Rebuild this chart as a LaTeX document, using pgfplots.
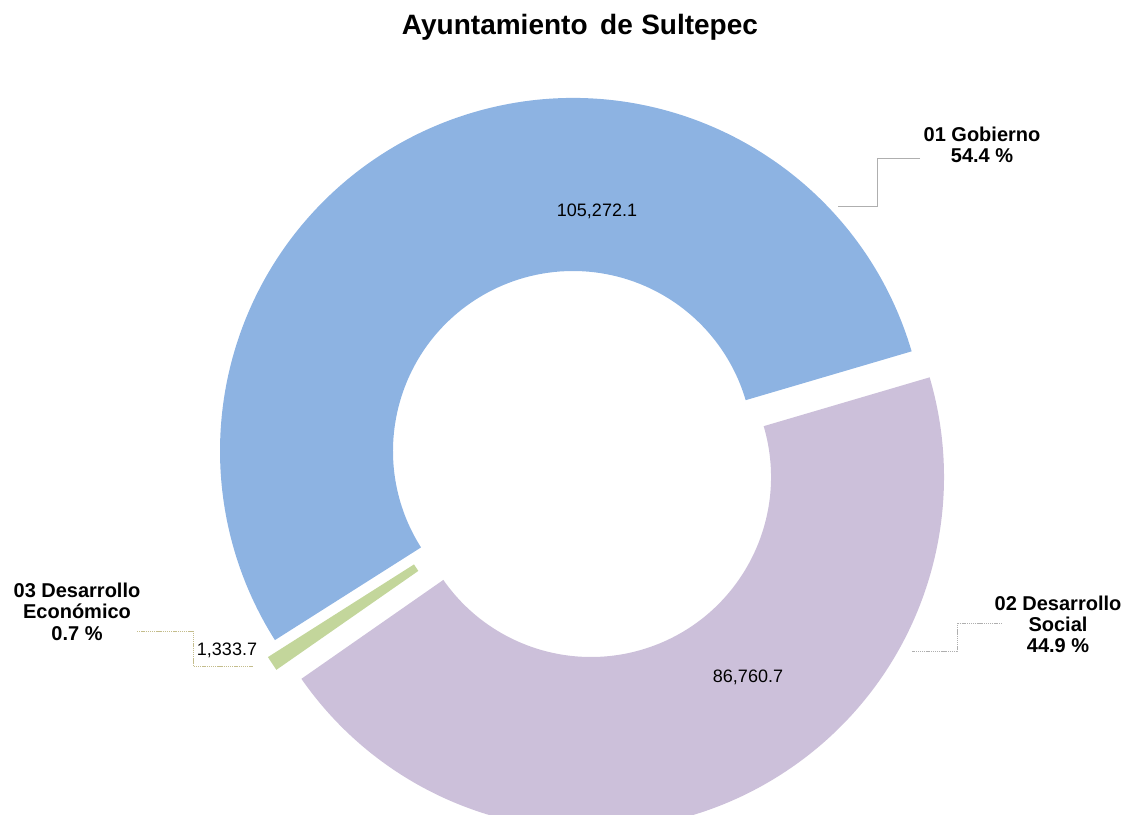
\documentclass[border=0pt]{standalone}
\usepackage{pgfplots}
\pgfplotsset{compat=1.18}
\usepackage{pgfplotstable}
\usepackage{fontspec}
\setmainfont{Liberation Sans}
\definecolor{cblue}{RGB}{141,179,226}
\definecolor{cpurple}{RGB}{204,192,218}
\definecolor{cgreen}{RGB}{195,214,155}
\definecolor{cline}{RGB}{175,175,175}
\definecolor{colive}{RGB}{196,189,140}

% values (thousands of pesos) and the centre of each exploded ring sector
\pgfplotstableread{
name value cx cy
Gobierno 105272.1 573 363
Social 86760.7 591 337
Economico 1333.7 566 346
}\datatable

\newcommand\ringsector[5]{%
  \fill[#1] (axis cs:#2,#3) ++(#4:264.75pt)
    arc[start angle=#4, end angle=#5, radius=264.75pt]
    -- ++(#5+180:129.75pt)
    arc[start angle=#5, end angle=#4, radius=135pt] -- cycle;}

\begin{document}
\begin{tikzpicture}
\pgfplotstablegetelem{0}{value}\of\datatable \edef\vA{\pgfplotsretval}
\pgfplotstablegetelem{1}{value}\of\datatable \edef\vB{\pgfplotsretval}
\pgfplotstablegetelem{2}{value}\of\datatable \edef\vC{\pgfplotsretval}
\pgfplotstablegetelem{0}{cx}\of\datatable \edef\xA{\pgfplotsretval}
\pgfplotstablegetelem{1}{cx}\of\datatable \edef\xB{\pgfplotsretval}
\pgfplotstablegetelem{2}{cx}\of\datatable \edef\xC{\pgfplotsretval}
\pgfplotstablegetelem{0}{cy}\of\datatable \edef\yA{\pgfplotsretval}
\pgfplotstablegetelem{1}{cy}\of\datatable \edef\yB{\pgfplotsretval}
\pgfplotstablegetelem{2}{cy}\of\datatable \edef\yC{\pgfplotsretval}
\edef\tot{\fpeval{\vA+\vB+\vC}}
\edef\aS{16.4}
\edef\aA{\fpeval{round(\aS+360*\vA/\tot,3)}}
\edef\aC{\fpeval{round(\aA+360*\vC/\tot,3)}}
\edef\aB{\fpeval{round(\aC+360*\vB/\tot,3)}}
\begin{axis}[
  scale only axis, width=847.5pt, height=610.5pt,
  xmin=0, xmax=1130, ymin=0, ymax=814,
  enlargelimits=false, hide axis, clip=true]
  \ringsector{cblue}{\xA}{\yA}{\aS}{\aA}
  \ringsector{cgreen}{\xC}{\yC}{\aA}{\aC}
  \ringsector{cpurple}{\xB}{\yB}{\aC}{\aB}
  % leader lines
  \draw[cline, line width=0.75pt] (axis cs:920,655) -- (axis cs:877,655) -- (axis cs:877,607) -- (axis cs:838,607);
  \draw[cline, line width=0.75pt, dash pattern=on 1pt off 0.6pt] (axis cs:1002,191) -- (axis cs:957,191) -- (axis cs:957,163) -- (axis cs:912,163);
  \draw[colive, line width=0.75pt, dash pattern=on 1pt off 0.6pt] (axis cs:137,183) -- (axis cs:193,183) -- (axis cs:193,148) -- (axis cs:253,148);
  % title
  \node[anchor=base, inner sep=0pt, font=\bfseries\fontsize{21}{25}\selectfont] at (axis cs:580,779) {Ayuntamiento\hspace{0.45em}de\hspace{0.3em}Sultepec};
  % value labels
  \node[anchor=base, inner sep=0pt, font=\fontsize{13.5}{16}\selectfont] at (axis cs:597,597) {105,272.1};
  \node[anchor=base, inner sep=0pt, font=\fontsize{13.5}{16}\selectfont] at (axis cs:748,132) {86,760.7};
  \node[anchor=base, inner sep=0pt, font=\fontsize{13.5}{16}\selectfont] at (axis cs:227,159) {1,333.7};
  % category labels
  \node[anchor=base, inner sep=0pt, font=\bfseries\fontsize{15}{18}\selectfont] at (axis cs:982,672) {01 Gobierno};
  \node[anchor=base, inner sep=0pt, font=\bfseries\fontsize{15}{18}\selectfont] at (axis cs:982,651) {54.4 \%};
  \node[anchor=base, inner sep=0pt, font=\bfseries\fontsize{15}{18}\selectfont] at (axis cs:1058,204) {02 Desarrollo};
  \node[anchor=base, inner sep=0pt, font=\bfseries\fontsize{15}{18}\selectfont] at (axis cs:1058,183) {Social};
  \node[anchor=base, inner sep=0pt, font=\bfseries\fontsize{15}{18}\selectfont] at (axis cs:1058,162) {44.9 \%};
  \node[anchor=base, inner sep=0pt, font=\bfseries\fontsize{15}{18}\selectfont] at (axis cs:77,217) {03 Desarrollo};
  \node[anchor=base, inner sep=0pt, font=\bfseries\fontsize{15}{18}\selectfont] at (axis cs:77,196) {Económico};
  \node[anchor=base, inner sep=0pt, font=\bfseries\fontsize{15}{18}\selectfont] at (axis cs:77,174) {0.7 \%};
\end{axis}
\pgfresetboundingbox
\path (current axis.south west) rectangle (current axis.north east);
\end{tikzpicture}
\end{document}
